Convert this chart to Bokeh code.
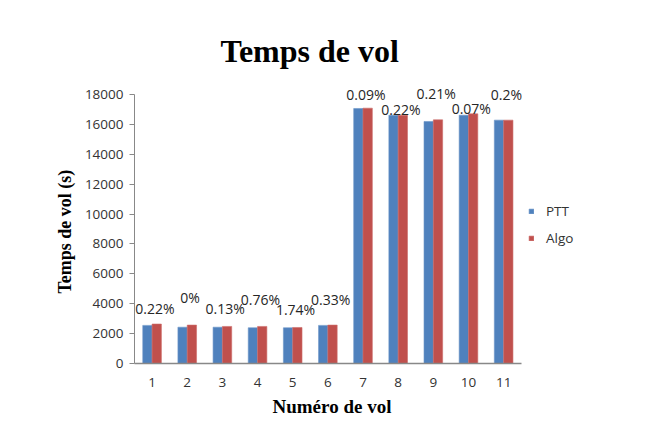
from bokeh.plotting import figure
from bokeh.models import ColumnDataSource, Range1d, Legend, LegendItem, SingleIntervalTicker, FixedTicker, Title
from bokeh.transform import dodge
from bokeh.core.properties import value
from bokeh.embed import file_html
from bokeh.resources import INLINE

# data
flights = ["1", "2", "3", "4", "5", "6", "7", "8", "9", "10", "11"]
ptt = [2550, 2430, 2430, 2390, 2390, 2550, 17060, 16610, 16190, 16610, 16280]
algo = [2640, 2570, 2480, 2480, 2410, 2570, 17080, 16610, 16300, 16700, 16280]
ecart = ["0.22%", "0%", "0.13%", "0.76%", "1.74%", "0.33%",
         "0.09%", "0.22%", "0.21%", "0.07%", "0.2%"]

# where the % boxes sit (hand placed in the original)
label_y = [3690, 4420, 3690, 4270, 3580, 4270, 18000, 17020, 18050, 17060, 18000]

# one slot per flight
xpos = list(range(1, len(flights) + 1))

src = ColumnDataSource(data=dict(x=xpos, ptt=ptt, algo=algo, ecart=ecart, label_y=label_y))

# both ranges reach past the axes: room for the top % labels and the legend
p = figure(x_range=Range1d(0.5, 13.3), y_range=Range1d(0, 19600),
           width=629, height=430, output_backend="svg", toolbar_location=None,
           min_border_left=134, min_border_right=45, min_border_top=70, min_border_bottom=67)
p.outline_line_color = None
p.grid.visible = False

# title, placed by hand
p.title.text = "Temps de vol"
p.title.align = "left"
p.title.offset = 86
p.title.text_font = "Liberation Serif"
p.title.text_font_size = "32px"
p.title.text_font_style = "bold"
p.title.text_color = "black"
p.title.standoff = 3

blue = "#4F81BD"
red = "#C0504D"
b1 = p.vbar(x=dodge("x", -0.1325), top="ptt", width=0.265, source=src,
            fill_color=blue, line_color="#6C95C8", line_width=0.6)
b2 = p.vbar(x=dodge("x", 0.1325), top="algo", width=0.265, source=src,
            fill_color=red, line_color="#CC6C69", line_width=0.6)

p.text(x=dodge("x", 0.08), y="label_y", text="ecart", source=src,
       text_align="center", text_baseline="middle", text_font=value("Open Sans"),
       text_font_size="14px", text_color="#262626")

# axes
ax = p.yaxis[0]
ax.ticker = SingleIntervalTicker(interval=2000)
ax.bounds = (0, 18000)
ax.major_label_text_font = "Open Sans"
ax.major_label_text_font_size = "13.5px"
ax.major_label_text_color = "#333333"
ax.major_label_standoff = 6
ax.axis_line_color = "#888888"
ax.major_tick_line_color = "#888888"
ax.major_tick_out = 5
ax.major_tick_in = 0
ax.minor_tick_line_color = None

xa = p.xaxis[0]
xa.ticker = FixedTicker(ticks=xpos)
xa.major_label_overrides = {x: f for x, f in zip(xpos, flights)}
xa.bounds = (0.5, len(flights) + 0.5)
xa.major_label_text_font = "Open Sans"
xa.major_label_text_font_size = "13.5px"
xa.major_label_text_color = "#333333"
xa.major_label_standoff = 8
xa.axis_line_color = "#888888"
xa.axis_line_width = 1.5
xa.major_tick_line_color = None
xa.minor_tick_line_color = None

# axis titles as panel titles, so they stay centred on the drawn axes
ylab = Title(text="Temps de vol (s)", align="left", offset=70, standoff=14,
             text_font="Liberation Serif", text_font_size="18px",
             text_font_style="bold", text_color="black")
p.add_layout(ylab, "left")
xlab = Title(text="Numéro de vol", align="left", offset=138, standoff=9,
             text_font="Liberation Serif", text_font_size="19px",
             text_font_style="bold", text_color="black")
p.add_layout(xlab, "below")

legend = Legend(items=[LegendItem(label="PTT", renderers=[b1]),
                       LegendItem(label="Algo", renderers=[b2])],
                location=(394, 116), orientation="vertical",
                glyph_width=6, glyph_height=6, label_standoff=12, spacing=9,
                label_text_font="Open Sans", label_text_font_size="13.5px",
                label_text_color="#333333", border_line_color=None,
                background_fill_alpha=0, margin=0, padding=2)
p.add_layout(legend)

open("out.html", "w").write(file_html(p, INLINE))
